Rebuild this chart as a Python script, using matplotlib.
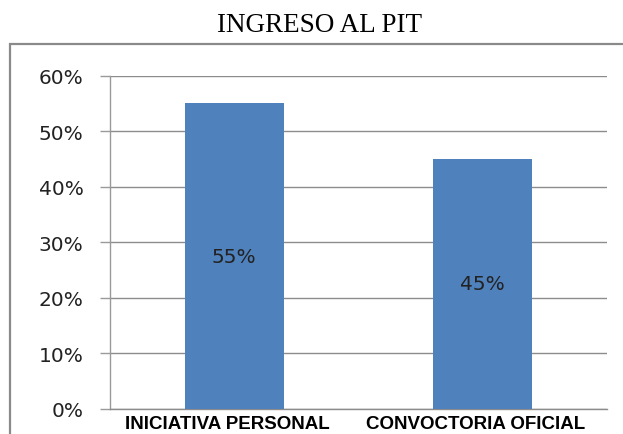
import matplotlib
matplotlib.use("Agg")
import matplotlib.pyplot as plt
from matplotlib.patches import Rectangle
from matplotlib.ticker import FuncFormatter
from matplotlib.transforms import ScaledTranslation

categories = ["INICIATIVA PERSONAL", "CONVOCTORIA OFICIAL"]
values = [0.55, 0.45]
bar_labels = ["55%", "45%"]
title = "INGRESO AL PIT"

W, H = 623, 435
fig = plt.figure(figsize=(W / 100, H / 100), dpi=100)
fig.patch.set_facecolor("white")

# outer border (chart area frame)
border = Rectangle((9.5 / W, -0.05), 1.2, (H - 45) / H + 0.05, transform=fig.transFigure,
                   fill=False, edgecolor="#8a8a8a", linewidth=1.6, clip_on=False)
fig.patches.append(border)

fig.text(320 / W, 1 - 25 / H, title, ha="center", va="center",
         family="Liberation Serif", fontsize=19.5, color="black")

left, right = 110 / W, 607 / W
bottom, top = (H - 410) / H, (H - 76.5) / H
ax = fig.add_axes([left, bottom, right - left, top - bottom])
ax.set_facecolor("none")

x = range(len(categories))
ax.bar(x, values, width=0.4, color="#4F81BD", zorder=3)
for xi, v, lab in zip(x, values, bar_labels):
    ax.text(xi, v / 2, lab, ha="center", va="center", fontsize=14.5,
            family="DejaVu Sans", color="#222222", zorder=4)

ax.set_xlim(-0.5, 1.5)
ax.set_ylim(0, 0.6)
ax.set_yticks([0, 0.1, 0.2, 0.3, 0.4, 0.5, 0.6])
ax.yaxis.set_major_formatter(FuncFormatter(lambda v, p: f"{round(v*100)}%"))
ax.grid(axis="y", color="#8c8c8c", linewidth=1.0, zorder=0)
ax.set_axisbelow(True)

for s in ["top", "right"]:
    ax.spines[s].set_visible(False)
ax.spines["left"].set_color("#9a9a9a")
ax.spines["bottom"].set_color("#8c8c8c")
ax.spines["left"].set_linewidth(1.0)
ax.spines["bottom"].set_linewidth(1.0)

ax.tick_params(axis="y", length=7, color="#9a9a9a", width=1.0, pad=12,
               labelsize=14.5, labelcolor="#222222")
ax.tick_params(axis="x", length=0, pad=4)
ax.set_xticks(list(x))
ax.set_xticklabels(categories, fontsize=13.5, fontweight="bold",
                   family="Liberation Sans", color="black")
shift = ScaledTranslation(-7 / 100, 0, fig.dpi_scale_trans)
for lab in ax.get_xticklabels():
    lab.set_transform(lab.get_transform() + shift)

fig.savefig("out.png", dpi=100)
